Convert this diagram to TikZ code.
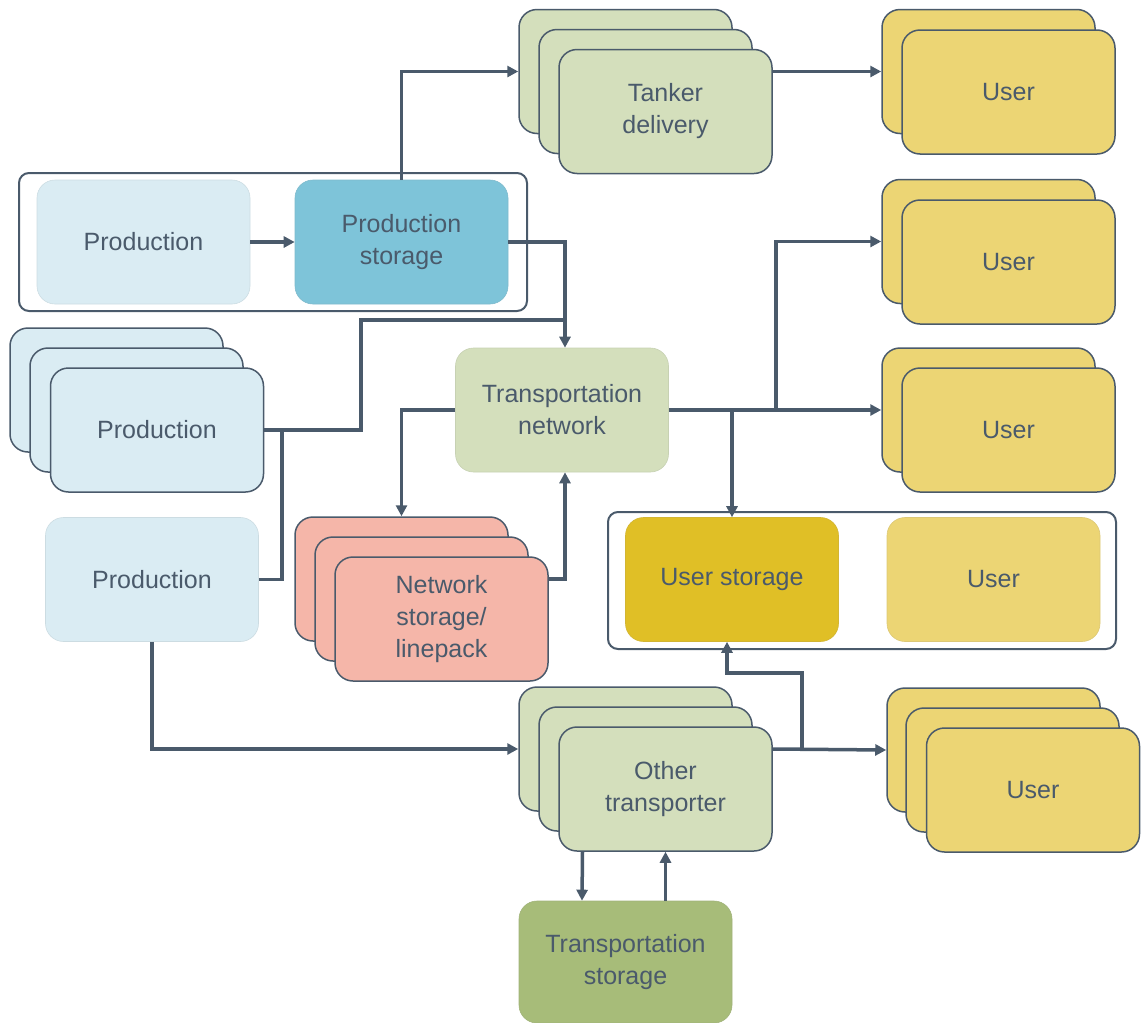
\documentclass[tikz,border=0pt]{standalone}
\usepackage{fontspec}
\setmainfont{Liberation Sans}
\usetikzlibrary{arrows.meta}
\definecolor{ink}{HTML}{4A5A6B}
\definecolor{prodblue}{HTML}{DAECF3}
\definecolor{storeblue}{HTML}{7EC4D9}
\definecolor{palegreen}{HTML}{D4DFBC}
\definecolor{salmon}{HTML}{F5B6A9}
\definecolor{useryellow}{HTML}{ECD574}
\definecolor{userstore}{HTML}{E0BF26}
\definecolor{tstoregreen}{HTML}{A7BC79}
\begin{document}
\begin{tikzpicture}[x=1pt,y=-1pt,
  box/.style={rounded corners=18pt,minimum width=213pt,minimum height=124pt,
    inner sep=0pt,align=center,text=ink,font=\fontsize{25}{32}\selectfont},
  flat/.style={box,draw=#1!85!gray,line width=0.6pt,fill=#1},
  layer/.style={box,draw=ink,line width=1.5pt,fill=#1},
  group/.style={draw=ink,line width=2pt,rounded corners=10pt},
  arr/.style={draw=ink,line width=3.5pt,-{Triangle[length=11pt,width=11pt]}},
  wire/.style={draw=ink,line width=3.5pt}]
\useasboundingbox (0,0) rectangle (1141,1023);

% grouping frames
\draw[group] (19,173) rectangle (527,311);
\draw[group] (608,512) rectangle (1116,649);

% production side
\node[flat=prodblue] (prodA) at (143.5,242) {Production};
\node[flat=storeblue] (pstore) at (401.5,242) {Production\\storage};
\node[layer=prodblue] (ps3) at (116.5,390) {};
\node[layer=prodblue] (ps2) at (136.5,410) {};
\node[layer=prodblue] (ps1) at (157,430) {Production};
\node[flat=prodblue] (prodB) at (152,579.5) {Production};

% tanker delivery
\node[layer=palegreen] (tk3) at (625.5,71.5) {};
\node[layer=palegreen] (tk2) at (645.5,91.5) {};
\node[layer=palegreen] (tk1) at (665.5,111.5) {Tanker\\delivery};

% users
\node[layer=useryellow] (u1b) at (988.5,71.5) {};
\node[layer=useryellow] (u1a) at (1008.5,92) {User};
\node[layer=useryellow] (u2b) at (988.5,241.5) {};
\node[layer=useryellow] (u2a) at (1008.5,262) {User};
\node[layer=useryellow] (u3b) at (988.5,410) {};
\node[layer=useryellow] (u3a) at (1008.5,430) {User};

% transportation network and linepack
\node[flat=palegreen] (tnet) at (562,410) {Transportation\\network};
\node[layer=salmon] (ns3) at (401.5,579) {};
\node[layer=salmon] (ns2) at (421.5,599) {};
\node[layer=salmon] (ns1) at (441.5,619) {Network\\storage/\\linepack};

% user with own storage
\node[flat=userstore] (ustore) at (732,579.5) {User storage};
\node[flat=useryellow] (userG) at (993.5,579.5) {User};

% other transporter
\node[layer=palegreen] (ot3) at (625.5,749) {};
\node[layer=palegreen] (ot2) at (645.5,769) {};
\node[layer=palegreen] (ot1) at (665.5,789) {Other\\transporter};
\node[layer=useryellow] (u4c) at (993.5,750) {};
\node[layer=useryellow] (u4b) at (1012.5,770) {};
\node[layer=useryellow] (u4a) at (1033,790) {User};
\node[flat=tstoregreen,minimum height=122pt] (tstore) at (625.5,962) {Transportation\\storage};

% junction points
\coordinate (tin) at ([xshift=3pt]tnet.north);
\coordinate (tout) at ([xshift=3pt]tnet.south);
\coordinate (j1) at (361,320);
\coordinate (j2) at (282,430);
\coordinate (b1) at (776,410);
\coordinate (b3) at (802,749);
\coordinate (jog) at (727,673);

% connectors
\draw[arr] (prodA.east) -- (pstore.west);
\draw[arr] (pstore.north) |- (tk3.west);
\draw[arr] (tk1.east |- tk3.west) -- (u1b.west);
\draw[arr] (pstore.east) -| (tin);
\draw[wire] (ps1.east) -| (j1) -- (j1 -| tin);
\draw[wire] (prodB.east) -| (j2);
\draw[arr] (prodB.south) |- (ot3.west);
\draw[arr] (tnet.west) -| (ns3.north);
\draw[arr] (ns1.east |- ns3.west) -| (tout);
\draw[arr] (tnet.east) -- (u3b.west);
\draw[arr] (b1) |- (u2b.west);
\draw[arr] (ustore.north |- tnet.east) -- (ustore.north);
\draw[arr] (ot1.east |- ot3.west) -- (u4c.west);
\draw[arr] (b3) |- (jog) -- (jog |- ustore.south);
\draw[arr] ([xshift=-83pt]ot1.south) -- ([xshift=-43.5pt]tstore.north);
\draw[arr] (ot1.south |- tstore.north) -- (ot1.south);
\end{tikzpicture}
\end{document}
